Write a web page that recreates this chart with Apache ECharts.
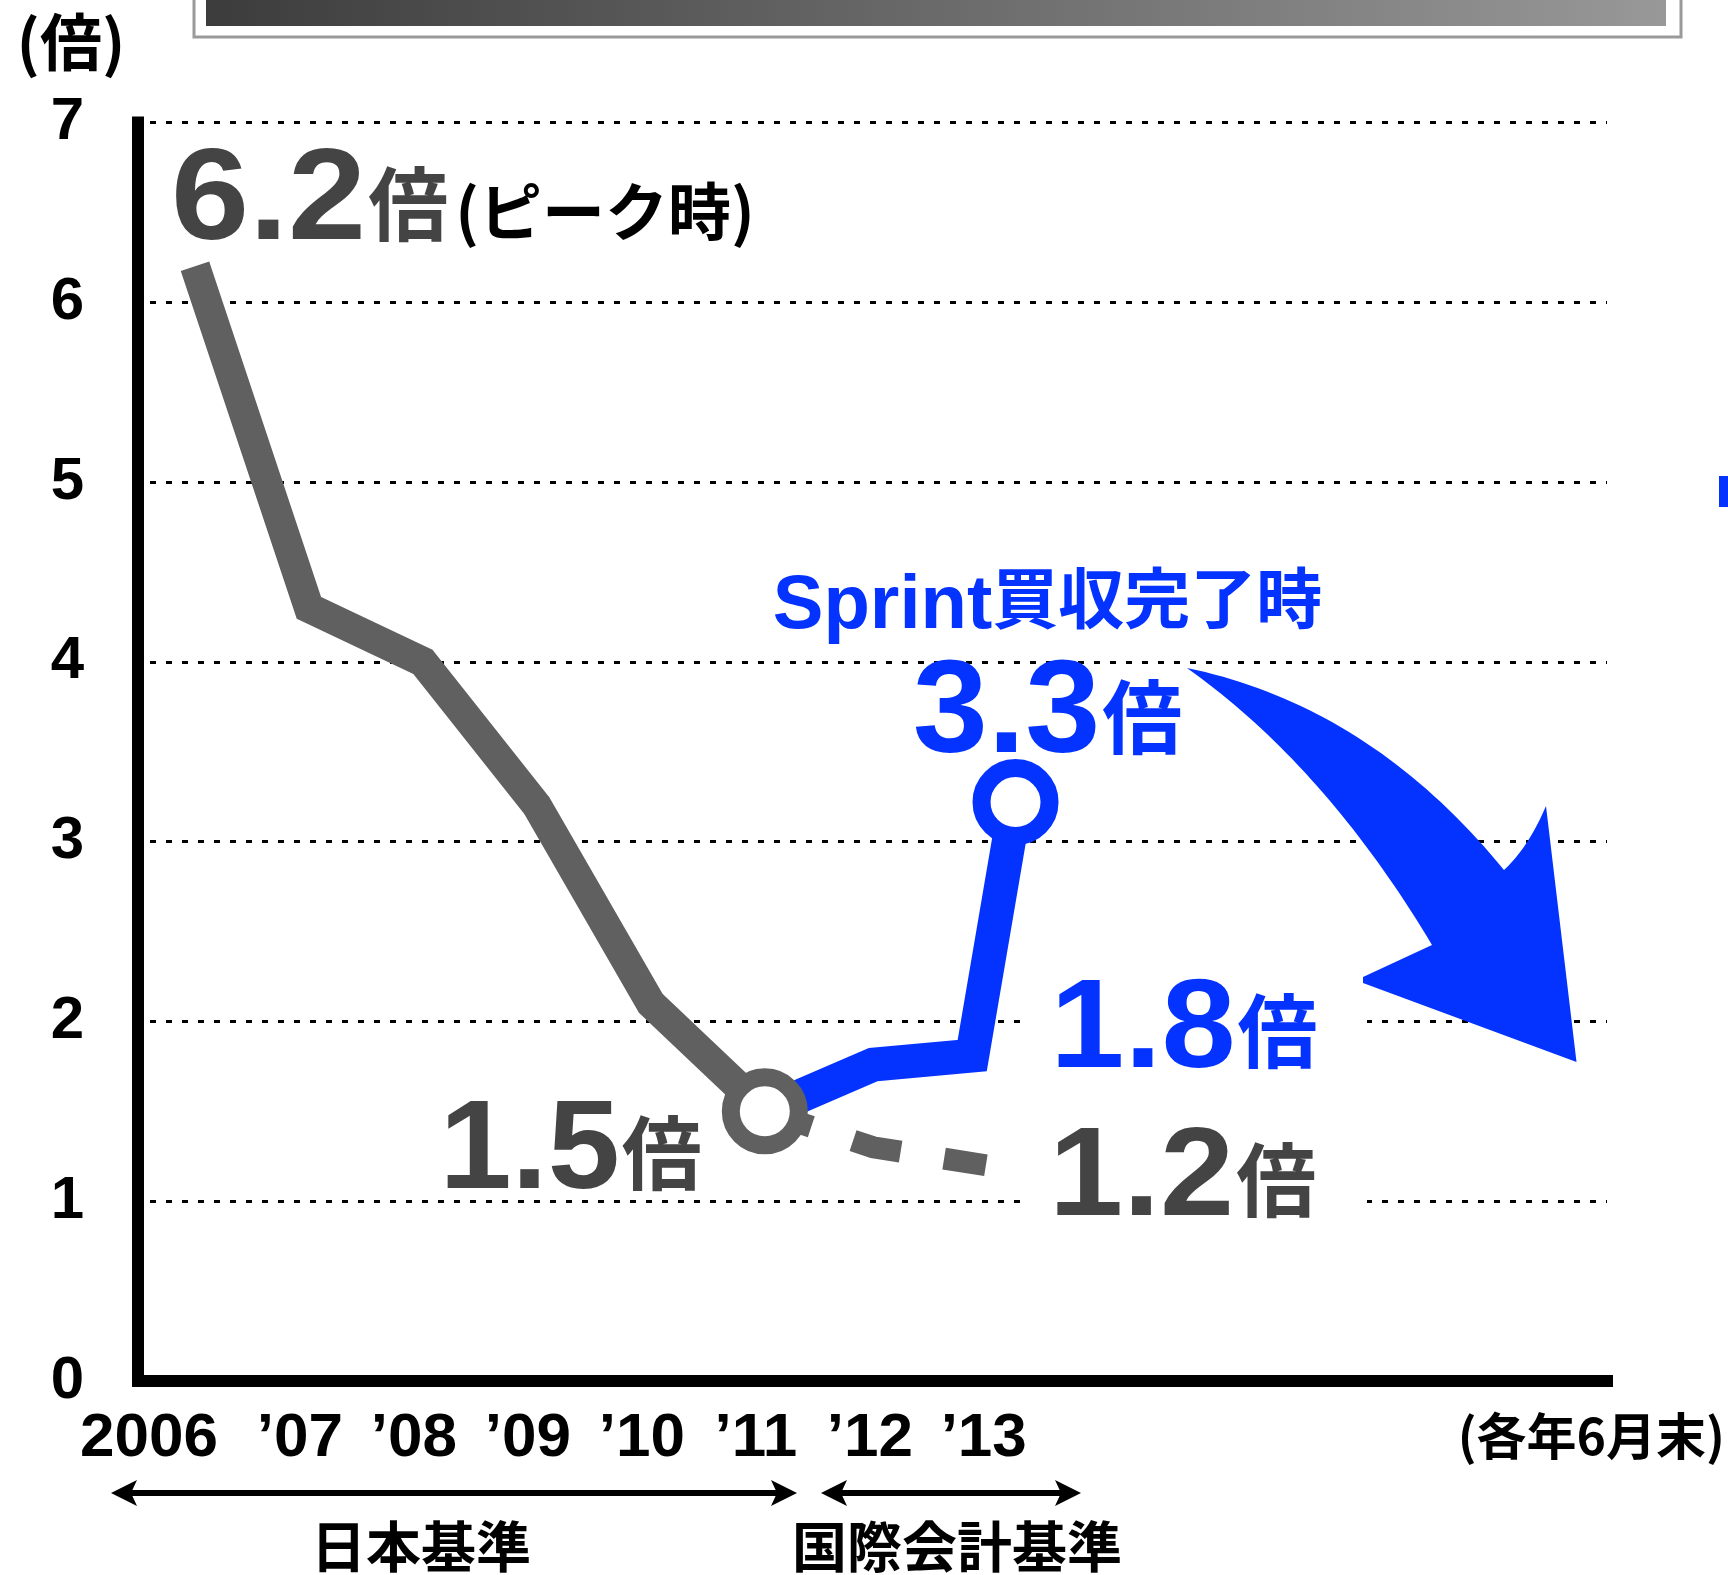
<!DOCTYPE html>
<html>
<head>
<meta charset="utf-8">
<script src="https://cdn.jsdelivr.net/npm/echarts@6/dist/echarts.min.js"></script>
<style>
html,body{margin:0;padding:0;background:#ffffff;}
#c{width:1728px;height:1575px;}
</style>
</head>
<body>
<div id="c"></div>
<script>
// ---------------- data ----------------
const jpYears      = [2006, 2007, 2008, 2009, 2010, 2011];
const jpValues     = [6.2, 4.3, 4.0, 3.2, 2.1, 1.5];
const ifrsYears    = [2011, 2011.95, 2012.82, 2013.2];
const ifrsValues   = [1.5, 1.76, 1.81, 3.22];
const projYears    = [2011, 2011.95, 2012.94];
const projValues   = [1.5, 1.3, 1.2];
const tickYears    = [2006, 2007, 2008, 2009, 2010, 2011, 2012, 2013];
const tickLabels   = ['2006', '\u201907', '\u201908', '\u201909', '\u201910', '\u201911', '\u201912', '\u201913'];
const calloutNums  = ['6.2', '1.5', '3.3', '1.8', '1.2'];
const calloutUnit  = '倍';
const peakNote     = '(ピーク時)';
const sprintNote   = ['Sprint', '買収完了時'];
const yUnit        = '(倍)';
const xNote        = '(各年6月末)';
const periodNames  = ['日本基準', '国際会計基準'];

// ---------------- styles ----------------
const GRAY = '#606060', DARK = '#444444', BLUE = '#0433ff';
const LATIN = '"Liberation Sans", Arial, "Noto Sans CJK JP", sans-serif';
const CJK = '"Noto Sans CJK JP", "Liberation Sans", sans-serif';
const K_LATIN = 0.268, K_CJK = 0.436;

const chart = echarts.init(document.getElementById('c'), null, {renderer: 'canvas'});

function zip(xs, ys) { return xs.map((x, i) => [x, ys[i]]); }
function lastOnly(pairs) {
  return pairs.map((p, i) => i === pairs.length - 1 ? {value: p} : {value: p, symbol: 'none'});
}
const tickFont = {fontSize: 62, fontWeight: 'bold', fontFamily: LATIN, color: '#000'};

const option = {
  animation: false,
  backgroundColor: '#ffffff',
  grid: {left: 138, right: 121, top: 122.5, bottom: 194, containLabel: false},
  xAxis: {
    type: 'value', min: 2005.5, max: 2018.39,
    splitLine: {show: false},
    axisTick: {show: false},
    axisLine: {show: true, onZero: true, lineStyle: {color: '#000', width: 12, cap: 'square'}},
    axisLabel: Object.assign({
      customValues: tickYears,
      margin: 27,
      formatter: function (v) {
        const i = tickYears.indexOf(Math.round(v));
        if (i < 0) return '';
        return (i === 0 ? '{s|' : '{t|') + tickLabels[i] + '}';
      },
      rich: {
        s: Object.assign({padding: [0, 92, 0, 0]}, tickFont),
        t: Object.assign({padding: [0, 18, 0, 0]}, tickFont)
      }
    }, tickFont)
  },
  yAxis: {
    type: 'value', min: 0, max: 7, interval: 1,
    axisLine: {show: true, lineStyle: {color: '#000', width: 12, cap: 'square'}},
    axisTick: {show: false},
    axisLabel: {margin: 54, fontSize: 60, fontWeight: 'bold', fontFamily: LATIN, color: '#000'},
    splitLine: {show: true, lineStyle: {color: '#000', width: 3, type: [6, 10], dashOffset: 4}}
  },
  series: [
    {
      type: 'line', name: '予想', data: zip(projYears, projValues),
      symbol: 'none', silent: true,
      lineStyle: {color: GRAY, width: 22, type: [49, 44], cap: 'butt', join: 'miter'}
    },
    {
      type: 'line', name: '国際会計基準', data: lastOnly(zip(ifrsYears, ifrsValues)),
      symbol: 'circle', symbolSize: 68, showAllSymbol: true, silent: true,
      itemStyle: {color: '#ffffff', borderColor: BLUE, borderWidth: 18},
      lineStyle: {color: BLUE, width: 34, cap: 'butt', join: 'miter'}
    },
    {
      type: 'line', name: '日本基準', data: lastOnly(zip(jpYears, jpValues)),
      symbol: 'circle', symbolSize: 68, showAllSymbol: true, silent: true,
      itemStyle: {color: '#ffffff', borderColor: GRAY, borderWidth: 18},
      lineStyle: {color: GRAY, width: 30, cap: 'butt', join: 'miter'}
    }
  ]
};
chart.setOption(option);

// ---------------- annotations ----------------
const mctx = document.createElement('canvas').getContext('2d');
function measure(text, size, family) {
  mctx.font = 'bold ' + size + 'px ' + family;
  return mctx.measureText(text).width;
}
// parts: {text, size, family, k, color, gap, sx}
function run(x, baseline, parts, align, z) {
  const widths = parts.map(p => measure(p.text, p.size, p.family) * (p.sx || 1));
  const total = widths.reduce((a, b) => a + b, 0) + parts.reduce((a, p) => a + (p.gap || 0), 0);
  let cx = align === 'right' ? x - total : (align === 'center' ? x - total / 2 : x);
  return parts.map((p, i) => {
    cx += p.gap || 0;
    const el = {
      type: 'text', x: cx, y: baseline - p.k * p.size, z: z || 10, scaleX: p.sx || 1,
      style: {text: p.text, fontSize: p.size, fontFamily: p.family, fontWeight: 'bold',
              fill: p.color, align: 'left', verticalAlign: 'middle'}
    };
    cx += widths[i];
    return el;
  });
}
function num(t, size, color, sx) { return {text: t, size: size, family: LATIN, k: K_LATIN, color: color, sx: sx || 1.06}; }
function cjk(t, size, color, gap) { return {text: t, size: size, family: CJK, k: K_CJK, color: color, gap: gap || 0}; }

const px = (x, y) => chart.convertToPixel({gridIndex: 0}, [x, y]);
const pPeak = px(jpYears[0], jpValues[0]);
const pLow = px(jpYears[5], jpValues[5]);
const pSprint = px(ifrsYears[3], ifrsValues[3]);
const pIfrs = px(ifrsYears[2], ifrsValues[2]);
const pProj = px(projYears[2], projValues[2]);

let g = [];
// top banner remnant
g.push({type: 'rect', z: 1, shape: {x: 194, y: -10, width: 1487, height: 47},
        style: {fill: '#ffffff', stroke: '#9a9a9a', lineWidth: 3}});
g.push({type: 'rect', z: 1, shape: {x: 206, y: -5, width: 1460, height: 31},
        style: {fill: new echarts.graphic.LinearGradient(0, 0, 1, 0, [{offset: 0, color: '#3c3c3c'}, {offset: 1, color: '#989898'}])}});
// small blue fragment at right edge
g.push({type: 'rect', z: 1, shape: {x: 1719, y: 476, width: 12, height: 31}, style: {fill: BLUE}});

// y unit
g.push({type: 'text', x: 71, y: 42, z: 10, style: {text: yUnit, fontSize: 62, fontWeight: 'bold', fontFamily: CJK, fill: '#000', align: 'center', verticalAlign: 'middle'}});
// x note
g.push({type: 'text', x: 1725, y: 1436, z: 10, style: {text: xNote, fontSize: 50, fontWeight: 'bold', fontFamily: CJK, fill: '#000', align: 'right', verticalAlign: 'middle'}});

// 6.2倍(ピーク時)
g = g.concat(run(pPeak[0] - 24, pPeak[1] - 28, [num(calloutNums[0], 130, DARK, 1.08), cjk(calloutUnit, 80, DARK, 2), cjk(peakNote, 63, '#000', 7)]));
// 1.5倍
g = g.concat(run(pLow[0] - 63, pLow[1] + 76, [num(calloutNums[1], 126, DARK, 1.03), cjk(calloutUnit, 80, DARK, 2)], 'right'));
// Sprint買収完了時 / 3.3倍
g = g.concat(run(pSprint[0] + 32, pSprint[1] - 175, [num(sprintNote[0], 76, BLUE, 1.0), cjk(sprintNote[1], 66, BLUE, 0)], 'center'));
g = g.concat(run(pSprint[0] + 32, pSprint[1] - 51, [num(calloutNums[2], 131, BLUE, 1.03), cjk(calloutUnit, 80, BLUE, 2)], 'center'));
// white boxes breaking grid lines behind 1.8 / 1.2
g.push({type: 'rect', z: 5, shape: {x: 1021, y: 980, width: 346, height: 90}, style: {fill: '#ffffff'}});
g.push({type: 'rect', z: 5, shape: {x: 1021, y: 1130, width: 346, height: 95}, style: {fill: '#ffffff'}});
// 1.8倍
g = g.concat(run(pIfrs[0] + 78, pIfrs[1] + 10, [num(calloutNums[3], 127, BLUE, 1.05), cjk(calloutUnit, 80, BLUE, 2)]));
// 1.2倍
g = g.concat(run(pProj[0] + 63, pProj[1] + 49, [num(calloutNums[4], 127, DARK, 1.05), cjk(calloutUnit, 80, DARK, 2)]));

// big curved arrow (decorative), quadratic curves sampled into a polygon
function quad(p0, c, p2, n) {
  const pts = [];
  for (let i = 1; i <= n; i++) {
    const t = i / n, u = 1 - t;
    pts.push([u * u * p0[0] + 2 * u * t * c[0] + t * t * p2[0], u * u * p0[1] + 2 * u * t * c[1] + t * t * p2[1]]);
  }
  return pts;
}
let arrowPts = [[1187, 668]];
arrowPts = arrowPts.concat(quad([1187, 668], [1370, 706], [1504, 870], 40));
arrowPts = arrowPts.concat(quad([1504, 870], [1528, 848], [1546, 806], 12));
arrowPts.push([1576.5, 1062], [1363, 983], [1363, 977], [1432, 945]);
arrowPts = arrowPts.concat(quad([1432, 945], [1325, 766], [1187, 668], 40));
g.push({type: 'polygon', z: 20, shape: {points: arrowPts}, style: {fill: BLUE}});

// period arrows
function dblArrow(x1, x2, y) {
  const out = [];
  out.push({type: 'line', z: 10, shape: {x1: x1 + 18, y1: y, x2: x2 - 18, y2: y}, style: {stroke: '#000', lineWidth: 6}});
  out.push({type: 'polygon', z: 10, shape: {points: [[x1, y], [x1 + 26, y - 13], [x1 + 20, y], [x1 + 26, y + 13]]}, style: {fill: '#000'}});
  out.push({type: 'polygon', z: 10, shape: {points: [[x2, y], [x2 - 26, y - 13], [x2 - 20, y], [x2 - 26, y + 13]]}, style: {fill: '#000'}});
  return out;
}
g = g.concat(dblArrow(111, 797, 1493));
g = g.concat(dblArrow(821, 1081, 1493));
g.push({type: 'text', x: 421, y: 1546, z: 10, style: {text: periodNames[0], fontSize: 55, fontWeight: 'bold', fontFamily: CJK, fill: '#000', align: 'center', verticalAlign: 'middle'}});
g.push({type: 'text', x: 957, y: 1546, z: 10, style: {text: periodNames[1], fontSize: 55, fontWeight: 'bold', fontFamily: CJK, fill: '#000', align: 'center', verticalAlign: 'middle'}});

chart.setOption({graphic: g});
</script>
</body>
</html>
